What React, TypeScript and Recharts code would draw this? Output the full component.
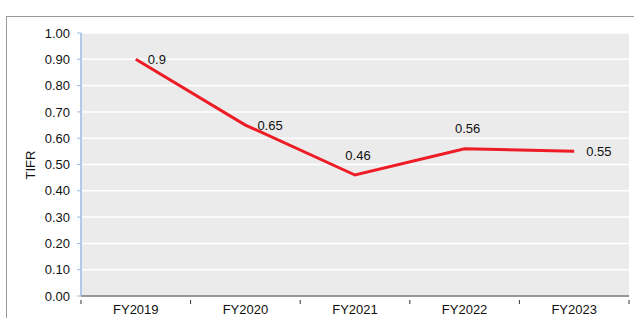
import { LineChart, Line, XAxis, YAxis, CartesianGrid, LabelList } from "recharts";

const years = ["FY2019", "FY2020", "FY2021", "FY2022", "FY2023"];
const tifr = [0.9, 0.65, 0.46, 0.56, 0.55];
const yTicks = [0, 0.1, 0.2, 0.3, 0.4, 0.5, 0.6, 0.7, 0.8, 0.9, 1.0];
// where each value label sits relative to its point
const labelSide = ["right", "right", "top", "top", "right"];

const data = years.map((year, i) => ({ year, tifr: tifr[i] }));

const FONT = "Liberation Sans, Arial, Helvetica, sans-serif";
const HALF_BAND = 54.8;

function XTick(props: any) {
  const { x, y, payload, index } = props;
  const last = index === years.length - 1;
  return (
    <g>
      <line x1={x - HALF_BAND} x2={x - HALF_BAND} y1={y - 4} y2={y} stroke="#333" />
      {last && <line x1={x + HALF_BAND} x2={x + HALF_BAND} y1={y - 4} y2={y} stroke="#333" />}
      <text x={x} y={y + 1} dy="0.71em" textAnchor="middle" fontSize={13} fill="#111" fontFamily={FONT}>
        {payload.value}
      </text>
    </g>
  );
}

function ValueLabel(props: any) {
  const { x, y, value, index } = props;
  const side = labelSide[index];
  if (side === "top") {
    return (
      <text x={x + 3} y={y - 20} textAnchor="middle" dominantBaseline="central" fontSize={13} fill="#111" fontFamily={FONT}>
        {value}
      </text>
    );
  }
  return (
    <text x={x + 12} y={y} textAnchor="start" dominantBaseline="central" fontSize={13} fill="#111" fontFamily={FONT}>
      {value}
    </text>
  );
}

export default function App() {
  return (
    <div style={{ position: "absolute", left: 0, top: 0, width: 634, height: 318, overflow: "hidden", background: "#fff" }}>
      <div style={{ position: "absolute", left: 6, top: 16, width: 700, height: 400, border: "1px solid #9a9a9a" }} />
      <div style={{ position: "absolute", left: 0, top: 0 }}>
        <LineChart width={634} height={318} data={data} margin={{ top: 33, right: 5, left: 0, bottom: 0 }}>
          <CartesianGrid vertical={false} fill="#ebebeb" stroke="#ffffff" strokeWidth={1.5} />
          <XAxis
            dataKey="year"
            height={22}
            tickLine={false}
            axisLine={{ stroke: "#333" }}
            tick={<XTick />}
            interval={0}
            padding={{ left: HALF_BAND, right: HALF_BAND }}
          />
          <YAxis
            width={81}
            domain={[0, 1]}
            ticks={yTicks}
            tickFormatter={(v: number) => v.toFixed(2)}
            tick={{ fontSize: 13, fill: "#111", fontFamily: FONT }}
            tickSize={4}
            tickMargin={7}
            tickLine={{ stroke: "#9dbbe0" }}
            axisLine={{ stroke: "#9dbbe0", strokeWidth: 1.5 }}
            label={() => (
              <text
                x={30}
                y={165}
                transform="rotate(-90 30 165)"
                textAnchor="middle"
                dominantBaseline="central"
                fontSize={13}
                fill="#111"
                fontFamily={FONT}
              >
                TIFR
              </text>
            )}
          />
          <Line
            type="linear"
            dataKey="tifr"
            stroke="#ee1c25"
            strokeWidth={3}
            dot={false}
            activeDot={false}
            isAnimationActive={false}
          >
            <LabelList dataKey="tifr" content={<ValueLabel />} />
          </Line>
        </LineChart>
      </div>
    </div>
  );
}
